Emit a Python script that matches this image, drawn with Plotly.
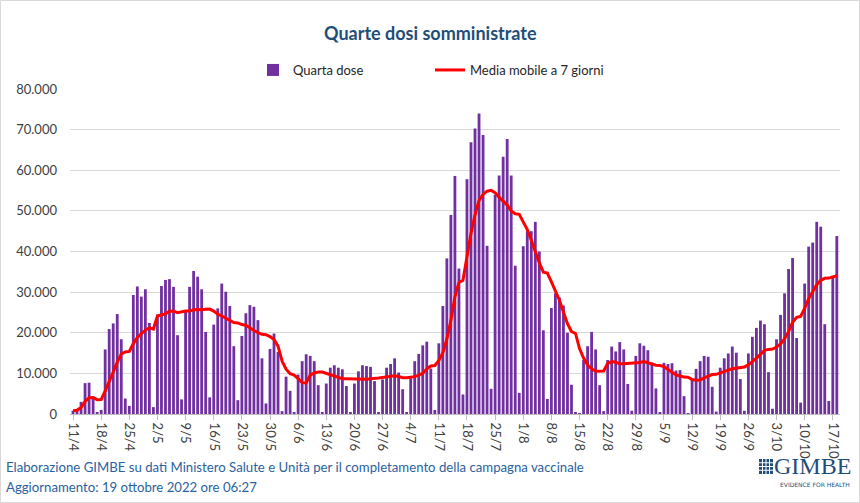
import pandas as pd
import plotly.graph_objects as go

# ---- data ----
start_date = "2022-04-11"
quarta_dose = [
    800, 1000, 3000, 7600, 7700, 4300, 300,          # 11/4 - 17/4
    1000, 15900, 20900, 22300, 24600, 18400, 3800,   # 18/4 - 24/4
    2000, 29300, 31400, 28900, 30700, 22400, 1700,   # 25/4 - 1/5
    24500, 31500, 33000, 33200, 31300, 19400, 3600,  # 2/5 - 8/5
    25500, 31300, 35200, 33800, 30700, 20200, 4100,  # 9/5 - 15/5
    22000, 26000, 32100, 30100, 26600, 16700, 3400,  # 16/5 - 22/5
    19200, 24800, 26800, 26400, 23100, 13700, 2600,  # 23/5 - 29/5
    16000, 19800, 15300, 700, 9200, 5700, 400,       # 30/5 - 5/6
    9700, 13000, 14700, 14300, 13000, 7100, 400,     # 6/6 - 12/6
    7500, 11400, 12000, 11400, 11000, 6900, 300,     # 13/6 - 19/6
    7500, 10500, 12000, 11800, 11600, 8100, 400,     # 20/6 - 26/6
    8500, 11400, 12300, 13700, 10200, 6100, 300,     # 27/6 - 3/7
    8800, 13000, 14800, 16900, 17800, 11200, 1000,   # 4/7 - 10/7
    17400, 26600, 38300, 49000, 58600, 35800, 4800,  # 11/7 - 17/7
    57800, 66900, 70300, 74000, 68700, 41400, 6200,  # 18/7 - 24/7
    54000, 58700, 63300, 67700, 58700, 36500, 5200,  # 25/7 - 31/7
    41300, 45000, 45000, 47300, 40000, 20600, 3700,  # 1/8 - 7/8
    26100, 29700, 28700, 26700, 20000, 7200, 400,    # 8/8 - 14/8
    100, 13300, 16700, 20200, 15900, 7100, 700,      # 15/8 - 21/8
    13300, 16600, 15400, 17700, 15900, 7400, 800,    # 22/8 - 28/8
    14300, 17400, 16800, 15700, 12700, 6300, 300,    # 29/8 - 4/9
    12600, 12300, 12500, 10700, 10800, 4400, 200,    # 5/9 - 11/9
    8500, 11100, 13000, 14300, 14100, 6700, 600,     # 12/9 - 18/9
    11400, 13700, 14900, 16600, 15100, 8600, 800,    # 19/9 - 25/9
    14900, 19000, 21200, 23000, 22100, 10300, 1300,  # 26/9 - 2/10
    18400, 24400, 29700, 35700, 38400, 18700, 2800,  # 3/10 - 9/10
    32100, 41200, 42200, 47300, 46100, 22100, 3200,  # 10/10 - 16/10
    33600, 43800,                                    # 17/10 - 18/10
]
tick_labels = ["11/4", "18/4", "25/4", "2/5", "9/5", "16/5", "23/5", "30/5",
               "6/6", "13/6", "20/6", "27/6", "4/7", "11/7", "18/7", "25/7",
               "1/8", "8/8", "15/8", "22/8", "29/8", "5/9", "12/9", "19/9",
               "26/9", "3/10", "10/10", "17/10"]
y_ticks = [0, 10000, 20000, 30000, 40000, 50000, 60000, 70000, 80000]

dates = pd.date_range(start_date, periods=len(quarta_dose), freq="D")
series = pd.Series(quarta_dose, index=dates)
media_mobile = series.rolling(7, min_periods=1).mean()
tick_vals = pd.date_range(start_date, periods=len(tick_labels), freq="7D")

# ---- layout helpers (pixel -> paper) ----
W, H = 860, 503
L, R, T, B = 70, 20, 89, 89
PW, PH = W - L - R, H - T - B


def px(x):
    return (x - L) / PW


def py(y):
    return (H - B - y) / PH


FONT = "Lato"
PURPLE = "#7030A0"
RED = "#FF0000"
BLUE = "#1F4E79"
FOOT = "#2B62A0"

fig = go.Figure()
fig.add_trace(go.Bar(x=dates, y=quarta_dose, name="Quarta dose",
                     marker=dict(color=PURPLE, line=dict(width=0))))
fig.add_trace(go.Scatter(x=dates, y=media_mobile.values, name="Media mobile a 7 giorni",
                         mode="lines", line=dict(color=RED, width=3)))

fig.update_layout(
    width=W, height=H,
    margin=dict(l=L, r=R, t=T, b=B),
    paper_bgcolor="white", plot_bgcolor="white",
    separators=",.",
    bargap=0.3,
    font=dict(family=FONT, size=13, color="#404040"),
    showlegend=True,
    legend=dict(orientation="h", x=px(253), y=py(70), xanchor="left", yanchor="middle",
                font=dict(family=FONT, size=13, color="#262626"),
                entrywidth=132, entrywidthmode="pixels", itemwidth=30,
                bgcolor="rgba(0,0,0,0)"),
    xaxis=dict(
        type="date",
        range=[dates[0] - pd.Timedelta(hours=18), dates[-1] + pd.Timedelta(hours=19)],
        tickvals=tick_vals, ticktext=tick_labels, tickangle=90,
        ticks="outside", ticklen=5, tickcolor="#bfbfbf",
        showline=True, linecolor="#bfbfbf", linewidth=1,
        showgrid=False, zeroline=False,
        tickfont=dict(family=FONT, size=13, color="#404040"),
    ),
    yaxis=dict(
        range=[0, 80000], tickvals=y_ticks, tickformat=",d",
        showgrid=True, gridcolor="#d9d9d9", gridwidth=1,
        zeroline=False, showline=False, ticks="",
        ticklabelstandoff=12,
        tickfont=dict(family=FONT, size=13, color="#404040"),
    ),
)

annotations = [
    dict(text="<b>Quarte dosi somministrate</b>", x=px(430), y=py(33),
         xref="paper", yref="paper", showarrow=False, xanchor="center", yanchor="middle",
         font=dict(family=FONT, size=18, color=BLUE)),
    dict(text="Elaborazione GIMBE su dati Ministero Salute e Unità per il completamento della campagna vaccinale",
         x=px(4), y=py(467), xref="paper", yref="paper", showarrow=False,
         xanchor="left", yanchor="middle",
         font=dict(family=FONT, size=13.2, color=FOOT)),
    dict(text="Aggiornamento: 19 ottobre 2022 ore 06:27",
         x=px(4), y=py(487), xref="paper", yref="paper", showarrow=False,
         xanchor="left", yanchor="middle",
         font=dict(family=FONT, size=13.2, color=FOOT)),
    dict(text="GIMBE", x=px(853), y=py(466), xref="paper", yref="paper", showarrow=False,
         xanchor="right", yanchor="middle",
         font=dict(family="Liberation Serif", size=24, color=BLUE)),
    dict(text="EVIDENCE FOR HEALTH", x=px(852), y=py(484), xref="paper", yref="paper",
         showarrow=False, xanchor="right", yanchor="middle",
         font=dict(family="DejaVu Sans", size=6, color=BLUE)),
]
fig.update_layout(annotations=annotations)

shapes = [
    # outer frame
    dict(type="rect", xref="paper", yref="paper", x0=px(0.5), x1=px(859.5),
         y0=py(502.5), y1=py(0.5), line=dict(color="#d9d9d9", width=1), layer="below"),
    # logo grid icon
    dict(type="rect", xref="paper", yref="paper", x0=px(759), x1=px(773),
         y0=py(474), y1=py(459), fillcolor=BLUE, line=dict(width=0)),
]
for i in range(1, 4):
    shapes.append(dict(type="line", xref="paper", yref="paper",
                       x0=px(759 + i * 3.5), x1=px(759 + i * 3.5), y0=py(474), y1=py(459),
                       line=dict(color="white", width=1)))
    shapes.append(dict(type="line", xref="paper", yref="paper",
                       x0=px(759), x1=px(773), y0=py(459 + i * 3.75), y1=py(459 + i * 3.75),
                       line=dict(color="white", width=1)))
fig.update_layout(shapes=shapes)

fig.write_html("out.html",
               config={"displayModeBar": False},
               post_script="document.body.style.margin='0';document.body.style.overflow='hidden';")
